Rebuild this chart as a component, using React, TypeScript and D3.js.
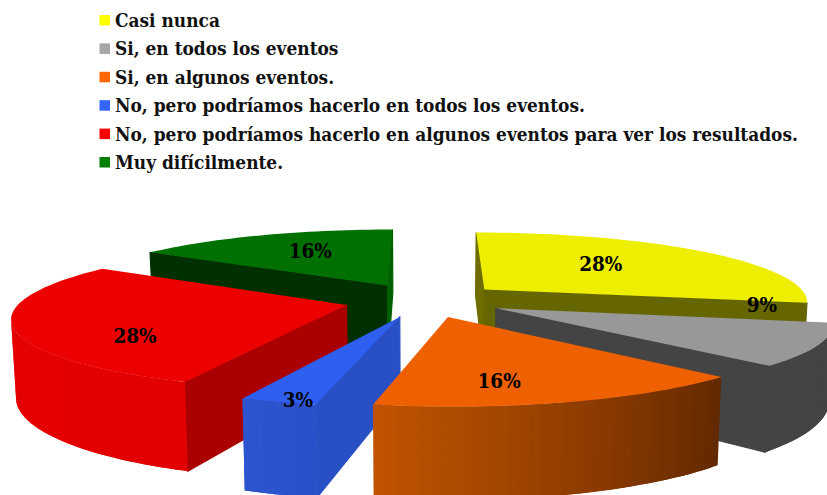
import React from "react";
import * as d3 from "d3";

// ---- data ----
const categories = [
  "Casi nunca",
  "Si, en todos los eventos",
  "Si, en algunos eventos.",
  "No, pero podríamos hacerlo en todos los eventos.",
  "No, pero podríamos hacerlo en algunos eventos para ver los resultados.",
  "Muy difícilmente.",
];
const values = [28.1, 9.4, 15.6, 3.1, 28.1, 15.6];

// ---- styles ----
const legendColors = ["#FFFF00", "#A6A6A6", "#FF6600", "#3366FF", "#FF0000", "#007F00"];
const topColors = ["#EEEE00", "#989898", "#EE6000", "#2F5FF0", "#EC0000", "#007000"];
const sideColors = ["#666600", "#444444", "#AE4A00", "#284FC4", "#AA0000", "#006000"];
const endColors = ["#6E6E00", "#444444", "#AE4A00", "#284FC4", "#AA0000", "#003000"];
const rimFrom = ["#666600", "#444444", "#C25400", "#2C55D0", "#E80000", "#003000"];
const rimTo = ["#666600", "#444444", "#622800", "#2A50C8", "#E20000", "#003000"];
const paintOrder = [5, 0, 4, 1, 3, 2];
const labelNudge: [number, number][] = [[-19, -2], [79, -25], [-16, 17], [-34, 36], [-15, 18], [2, -3]];

// ---- projection layout ----
const W = 827, H = 495;
const cx = 424, cy = 300, R = 325, EXPLODE = 80, DEPTH = 75, PERSP = 0.16, TILT = 0.213, TAPER = 0.012;
const FONT = "'DejaVu Serif Condensed','DejaVu Serif',serif";

type P = [number, number];
const project = (X: number, Y: number, Z: number): P => {
  const s = 1 / (1 + (PERSP * Y) / R);
  return [cx + X * s * (1 - (TAPER * Z) / DEPTH), cy - TILT * Y * s + Z * s];
};
const lineGen = d3.line<P>();
const closed = (pts: P[]) => (lineGen(pts) as string) + "Z";
const area = (pts: P[]) => d3.polygonArea(pts);

export default function App() {
  const arcs = d3.pie<number>().sort(null).startAngle(0).endAngle(2 * Math.PI)(values);

  const pieces = paintOrder.map((i) => {
    const a = arcs[i];
    const mid = (a.startAngle + a.endAngle) / 2;
    const ex = EXPLODE * Math.sin(mid), ey = EXPLODE * Math.cos(mid);
    const world = (t: number, r: number, z: number) =>
      project(ex + r * Math.sin(t), ey + r * Math.cos(t), z);

    const steps = d3.range(0, Math.max(4, Math.round((a.endAngle - a.startAngle) * 36)) + 1);
    const tScale = d3.scaleLinear().domain([0, steps.length - 1]).range([a.startAngle, a.endAngle]);
    const ts = steps.map((k) => tScale(k));

    const top: P[] = [world(0, 0, 0), ...ts.map((t) => world(t, R, 0))];
    const faces: { d: string; fill: string; key: string; stroke: boolean }[] = [];

    // flat ends: keep only those turned towards the viewer
    const end1: P[] = [world(0, 0, 0), world(a.startAngle, R, 0), world(a.startAngle, R, DEPTH), world(0, 0, DEPTH)];
    const end2: P[] = [world(0, 0, 0), world(0, 0, DEPTH), world(a.endAngle, R, DEPTH), world(a.endAngle, R, 0)];
    if (area(end1) > 0) faces.push({ d: closed(end1), fill: endColors[i], key: "e1", stroke: true });
    if (area(end2) > 0) faces.push({ d: closed(end2), fill: sideColors[i], key: "e2", stroke: true });

    // curved rim, split into overlapping strips for its stepped shading
    const shade = d3.scaleLinear<string>().domain([a.startAngle, a.endAngle]).range([rimTo[i], rimFrom[i]]);
    ts.slice(1).forEach((t, k) => {
      const t0 = ts[k];
      const t1 = ts[k + 2] ?? t;
      const q: P[] = [world(t0, R, 0), world(t0, R, DEPTH), world(t, R, DEPTH), world(t1, R, DEPTH), world(t1, R, 0), world(t, R, 0)];
      if (area(q) < 0) faces.push({ d: closed(q), fill: shade((t + t0) / 2), key: "r" + k, stroke: false });
    });
    return { i, faces, top: closed(top) };
  });

  const labels = arcs.map((a, i) => {
    const mid = (a.startAngle + a.endAngle) / 2;
    const r = EXPLODE + 0.6 * R;
    const p = project(r * Math.sin(mid), r * Math.cos(mid), 0);
    return { x: p[0] + labelNudge[i][0], y: p[1] + labelNudge[i][1], text: `${Math.round(a.data)}%` };
  });

  const legendY = d3.scalePoint<number>().domain(d3.range(categories.length)).range([21, 163]);

  return (
    <svg width={W} height={H} viewBox={`0 0 ${W} ${H}`} style={{ position: "absolute", left: 0, top: 0, background: "#fff" }}>
      {categories.map((c, i) => (
        <g key={c}>
          <rect x={99.5} y={(legendY(i) as number) - 6} width={10.5} height={10.5} fill={legendColors[i]} />
          <text x={115} y={(legendY(i) as number) + 6} fontFamily={FONT} fontWeight={700} fontSize={18.9} fill="#111">
            {c}
          </text>
        </g>
      ))}
      {pieces.map((p) => (
        <g key={p.i}>
          {p.faces.map((f) => (
            <path key={f.key} d={f.d} fill={f.fill} stroke={f.stroke ? f.fill : "none"} strokeWidth={1.2} />
          ))}
          <path d={p.top} fill={topColors[p.i]} />
        </g>
      ))}
      {labels.map((l, i) => (
        <text key={i} x={l.x} y={l.y} textAnchor="middle" dominantBaseline="central" fontFamily={FONT} fontWeight={700} fontSize={20.5} fill="#000">
          {l.text}
        </text>
      ))}
    </svg>
  );
}
